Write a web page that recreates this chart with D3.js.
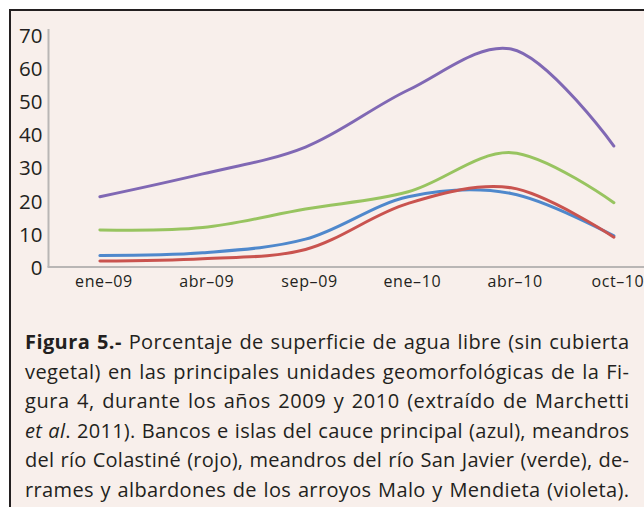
<!DOCTYPE html>
<html>
<head>
<meta charset="utf-8">
<script src="https://cdn.jsdelivr.net/npm/d3@7"></script>
<style>
  html, body { margin: 0; padding: 0; background: #ffffff; }
  svg { display: block; }
  text { font-variant-ligatures: none; }
</style>
</head>
<body>
<svg id="chart" width="644" height="507"></svg>
<script>
// Surface of open water (%) per geomorphological unit, 2009–2010
const months = ["ene–09", "abr–09", "sep–09", "ene–10", "abr–10", "oct–10"];
const yTicks = [0, 10, 20, 30, 40, 50, 60, 70];

const azul    = [3.5, 4.3, 8.4, 21.2, 22.2, 9.4];   // bancos e islas del cauce principal
const rojo    = [1.8, 2.5, 5.3, 19.2, 23.9, 9.0];   // meandros del río Colastiné
const verde   = [11.2, 11.9, 17.5, 22.7, 34.5, 19.4]; // meandros del río San Javier
const violeta = [21.2, 28.1, 36.2, 53.4, 65.8, 36.5]; // derrames y albardones

const seriesNames = ["azul", "rojo", "verde", "violeta"];
const seriesValues = [azul, rojo, verde, violeta];
const seriesColors = ["#4f88cc", "#c9534f", "#98c460", "#8068b4"];

const captionLines = [
  [{t: "Figura 5.-", w: "bold"}, {t: " Porcentaje de superficie de agua libre (sin cubierta"}],
  [{t: "vegetal) en las principales unidades geomorfológicas de la Fi-"}],
  [{t: "gura 4, durante los años 2009 y 2010 (extraído de Marchetti"}],
  [{t: "et al", s: "italic"}, {t: ". 2011). Bancos e islas del cauce principal (azul), meandros"}],
  [{t: "del río Colastiné (rojo), meandros del río San Javier (verde), de-"}],
  [{t: "rrames y albardones de los arroyos Malo y Mendieta (violeta)."}]
];

const svg = d3.select("#chart");
const capFont = "'Open Sans', 'Noto Sans', sans-serif";
const ink = "#231f20";

// framed panel
svg.append("rect")
  .attr("x", 10).attr("y", 10)
  .attr("width", 700).attr("height", 600)
  .attr("fill", "#f8efeb")
  .attr("stroke", ink).attr("stroke-width", 2);

// scales
const x = d3.scaleBand().domain(months).range([48.5, 48.5 + 6 * 102.8]);
const y = d3.scaleLinear().domain([0, 70]).range([267, 35]);
const cx = d => x(d) + x.bandwidth() / 2;

const g = svg.append("g");

// axes
const axisColor = "#b9b6b5";
g.append("line")
  .attr("x1", 48.5).attr("x2", 48.5)
  .attr("y1", y(0)).attr("y2", y(70) - 6)
  .attr("stroke", axisColor).attr("stroke-width", 2);
g.append("line")
  .attr("x1", 47.5).attr("x2", 644)
  .attr("y1", y(0)).attr("y2", y(0))
  .attr("stroke", axisColor).attr("stroke-width", 2);

const yAxis = d3.axisLeft(y).tickValues(yTicks).tickSize(0).tickPadding(6);
const ya = g.append("g").attr("transform", "translate(48.5,0)").call(yAxis);
ya.select(".domain").remove();
ya.selectAll("text")
  .attr("font-family", capFont).attr("font-size", 20.5)
  .attr("fill", ink).attr("dy", "0.36em");

const xAxis = d3.axisBottom(x).tickSize(0).tickPadding(9);
const xa = g.append("g").attr("transform", `translate(4,${y(0)})`).call(xAxis);
xa.select(".domain").remove();
xa.selectAll("text")
  .attr("font-family", capFont).attr("font-size", 16)
  .attr("letter-spacing", 0.6)
  .attr("fill", ink);

// smoothed series lines
const line = d3.line()
  .x((d, i) => cx(months[i]))
  .y(d => y(d))
  .curve(d3.curveCatmullRom.alpha(0.5));

g.selectAll("path.series")
  .data(seriesValues)
  .join("path")
  .attr("class", (d, i) => "series " + seriesNames[i])
  .attr("d", line)
  .attr("fill", "none")
  .attr("stroke", (d, i) => seriesColors[i])
  .attr("stroke-width", 3)
  .attr("stroke-linecap", "round")
  .attr("stroke-linejoin", "round");

// justified caption: spread the slack mostly over letters, the rest over spaces
const capLeft = 25, capRight = 629, capBase = 349, capStep = 29.6;
captionLines.forEach((parts, i) => {
  const t = svg.append("text")
    .attr("x", capLeft).attr("y", capBase + i * capStep)
    .attr("font-family", capFont).attr("font-size", 20)
    .attr("fill", ink);
  parts.forEach(p => {
    t.append("tspan").text(p.t)
      .attr("font-weight", p.w || null)
      .attr("font-style", p.s || null);
  });
  const full = parts.map(p => p.t).join("");
  const spaces = (full.match(/ /g) || []).length;
  const w = t.node().getComputedTextLength();
  const extra = capRight - capLeft - w;
  const ls = Math.max(-0.4, Math.min(0.55, (extra * 0.7) / full.length));
  t.attr("letter-spacing", ls);
  const w2 = t.node().getComputedTextLength();
  t.attr("word-spacing", (capRight - capLeft - w2 + ls) / spaces);
});
</script>
</body>
</html>
